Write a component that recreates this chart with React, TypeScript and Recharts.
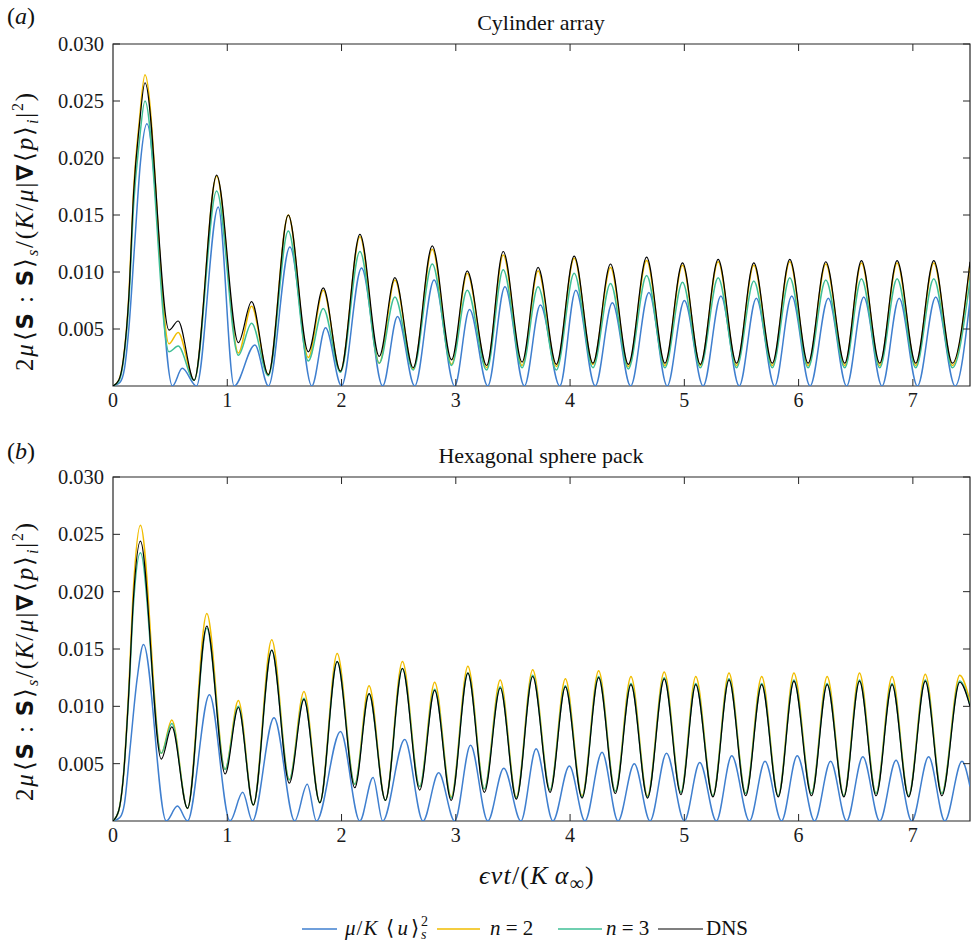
import React from 'react';
import { LineChart, Line, XAxis, YAxis, ReferenceArea } from 'recharts';

// ---------- ticks ----------
const xTicks = [0, 1, 2, 3, 4, 5, 6, 7];
const yTicks = [0.005, 0.01, 0.015, 0.02, 0.025, 0.03];

// ---------- panel (a): Cylinder array ----------
const aX = [0, 0.05, 0.09, 0.14, 0.18, 0.23, 0.28,
  0.49, 0.57, 0.71,
  0.907, 1.097, 1.213, 1.359,
  1.534, 1.709, 1.84, 1.99,
  2.161, 2.33, 2.467, 2.627,
  2.794, 2.963, 3.10, 3.27,
  3.415, 3.58, 3.72, 3.88,
  4.036, 4.20, 4.354, 4.51,
  4.67, 4.83, 4.984, 5.14,
  5.296, 5.457, 5.608, 5.77,
  5.923, 6.083, 6.238, 6.404,
  6.55, 6.71, 6.862, 7.025,
  7.183, 7.346, 7.5];
const aDNS = [0, 0.0005, 0.0023, 0.0081, 0.0169, 0.0228, 0.0266,
  0.0049, 0.0057, 0.0005,
  0.0185, 0.0038, 0.0074, 0.0010,
  0.0150, 0.0030, 0.0086, 0.0013,
  0.0133, 0.0026, 0.0095, 0.0016,
  0.0123, 0.0023, 0.0101, 0.0018,
  0.0118, 0.0021, 0.0104, 0.0019,
  0.0114, 0.0020, 0.0107, 0.0019,
  0.0113, 0.0020, 0.0108, 0.0019,
  0.0111, 0.0020, 0.0108, 0.0020,
  0.0111, 0.0020, 0.0109, 0.0020,
  0.0110, 0.0020, 0.0110, 0.0020,
  0.0110, 0.0020, 0.0109];
const aN2 = [0, 0.0005, 0.0023, 0.0082, 0.0171, 0.0232, 0.0273,
  0.0037, 0.0047, 0.0005,
  0.0184, 0.0029, 0.0070, 0.0010,
  0.0150, 0.0025, 0.0084, 0.0013,
  0.0131, 0.0020, 0.0093, 0.0015,
  0.0120, 0.0019, 0.0099, 0.0016,
  0.0115, 0.0018, 0.0101, 0.0017,
  0.0112, 0.0019, 0.0104, 0.0017,
  0.0110, 0.0018, 0.0106, 0.0018,
  0.0109, 0.0018, 0.0106, 0.0018,
  0.0109, 0.0018, 0.0107, 0.0018,
  0.0108, 0.0018, 0.0108, 0.0018,
  0.0108, 0.0018, 0.0107];
const aN3 = [0, 0.0004, 0.0021, 0.0076, 0.0158, 0.0214, 0.0250,
  0.0030, 0.0035, 0.0005,
  0.0171, 0.0027, 0.0055, 0.0009,
  0.0136, 0.0022, 0.0068, 0.0012,
  0.0118, 0.0020, 0.0078, 0.0014,
  0.0107, 0.0018, 0.0084, 0.0014,
  0.0102, 0.0016, 0.0087, 0.0014,
  0.0099, 0.0016, 0.0090, 0.0015,
  0.0097, 0.0016, 0.0091, 0.0016,
  0.0095, 0.0016, 0.0092, 0.0016,
  0.0095, 0.0016, 0.0093, 0.0016,
  0.0094, 0.0016, 0.0094, 0.0016,
  0.0094, 0.0016, 0.0093];
const aUX = [0, 0.06, 0.10, 0.14, 0.19, 0.24, 0.297, 0.52,
  0.606, 0.73, 0.921, 1.06, 1.242, 1.36, 1.548, 1.74, 1.86, 2.0,
  2.175, 2.36, 2.49, 2.64, 2.81, 2.99, 3.12, 3.28, 3.43, 3.60,
  3.74, 3.91, 4.05, 4.22, 4.37, 4.53, 4.69, 4.85, 5.0, 5.165,
  5.32, 5.48, 5.63, 5.79, 5.94, 6.10, 6.26, 6.42, 6.57, 6.73,
  6.88, 7.04, 7.20, 7.37, 7.5];
const aU = [0, 0.0003, 0.0015, 0.0052, 0.0125, 0.0196, 0.0230, 0,
  0.00155, 0, 0.0157, 0, 0.0036, 0, 0.0122, 0, 0.0051, 0,
  0.01035, 0, 0.0061, 0, 0.0093, 0, 0.0067, 0, 0.0087, 0,
  0.0071, 0, 0.0084, 0, 0.0073, 0, 0.0082, 0, 0.0075, 0,
  0.0079, 0, 0.0077, 0, 0.0079, 0, 0.0077, 0, 0.0078, 0,
  0.0077, 0, 0.0078, 0, 0.0075];

// ---------- panel (b): Hexagonal sphere pack ----------
const bX = [0, 0.05, 0.093, 0.136, 0.18, 0.24, 0.422, 0.515, 0.652,
  0.821, 0.981, 1.097, 1.228,
  1.389, 1.543, 1.671, 1.81,
  1.962, 2.116, 2.241, 2.384,
  2.533, 2.684, 2.815, 2.96,
  3.106, 3.25, 3.389, 3.53,
  3.673, 3.825, 3.959, 4.105,
  4.25, 4.396, 4.533, 4.678,
  4.824, 4.97, 5.10, 5.25,
  5.391, 5.537, 5.677, 5.822,
  5.959, 6.113, 6.25, 6.396,
  6.533, 6.678, 6.818, 6.963,
  7.109, 7.254, 7.41,
  7.5];
const bDNS = [0, 0.0009, 0.0041, 0.0108, 0.0196, 0.0244, 0.0054, 0.0082, 0.0011,
  0.0170, 0.0041, 0.0099, 0.0014,
  0.0149, 0.0033, 0.0106, 0.0016,
  0.0139, 0.0029, 0.0111, 0.0018,
  0.0133, 0.0027, 0.0114, 0.0018,
  0.0129, 0.0025, 0.0116, 0.0019,
  0.0126, 0.0025, 0.0117, 0.0020,
  0.0125, 0.0024, 0.0119, 0.0020,
  0.0124, 0.0023, 0.0119, 0.0021,
  0.0123, 0.0022, 0.0119, 0.0021,
  0.0122, 0.0022, 0.0119, 0.0021,
  0.0122, 0.0022, 0.0119, 0.0021,
  0.0122, 0.0022, 0.0121,
  0.0100];
const bN2 = [0, 0.0009, 0.0042, 0.0112, 0.0205, 0.0258, 0.0059, 0.0088, 0.0011,
  0.0181, 0.0045, 0.0105, 0.0014,
  0.0158, 0.0036, 0.0113, 0.0016,
  0.0146, 0.0032, 0.0118, 0.0018,
  0.0139, 0.0030, 0.0121, 0.0021,
  0.0135, 0.0028, 0.0123, 0.0021,
  0.0132, 0.0027, 0.0124, 0.0022,
  0.0131, 0.0026, 0.0126, 0.0022,
  0.0130, 0.0025, 0.0126, 0.0022,
  0.0129, 0.0024, 0.0126, 0.0022,
  0.0129, 0.0024, 0.0126, 0.0022,
  0.0129, 0.0024, 0.0126, 0.0022,
  0.0128, 0.0024, 0.0127,
  0.0104];
const bN3 = [0, 0.0009, 0.0041, 0.0106, 0.0190, 0.0234, 0.0059, 0.0085, 0.0011,
  0.0168, 0.0045, 0.0100, 0.0014,
  0.0149, 0.0036, 0.0107, 0.0016,
  0.0139, 0.0032, 0.0111, 0.0018,
  0.0133, 0.0030, 0.0115, 0.0020,
  0.0129, 0.0028, 0.0117, 0.0020,
  0.0127, 0.0027, 0.0118, 0.0021,
  0.0126, 0.0026, 0.0120, 0.0021,
  0.0125, 0.0025, 0.0120, 0.0022,
  0.0124, 0.0024, 0.0120, 0.0022,
  0.0123, 0.0024, 0.0120, 0.0022,
  0.0123, 0.0024, 0.0120, 0.0022,
  0.0123, 0.0024, 0.0122,
  0.0101];
const bUX = [0, 0.06, 0.10, 0.151, 0.21, 0.267, 0.466, 0.564, 0.652,
  0.844, 1.024, 1.135, 1.22, 1.409, 1.59, 1.70, 1.78, 1.991, 2.16,
  2.276, 2.36, 2.553, 2.713, 2.85, 2.99, 3.129, 3.28, 3.42, 3.57,
  3.703, 3.85, 3.994, 4.13, 4.28, 4.42, 4.562, 4.70, 4.844, 5.0,
  5.135, 5.28, 5.415, 5.57, 5.706, 5.85, 5.988, 6.14, 6.28, 6.42,
  6.562, 6.71, 6.853, 6.99, 7.138, 7.28, 7.43, 7.5];
const bU = [0, 0.0003, 0.0015, 0.0065, 0.0123, 0.0154, 0, 0.0013, 0,
  0.0110, 0, 0.0025, 0, 0.0090, 0, 0.0032, 0, 0.0078, 0,
  0.0038, 0, 0.0071, 0, 0.0042, 0, 0.0066, 0, 0.0046, 0,
  0.0063, 0, 0.0048, 0, 0.0060, 0, 0.0050, 0, 0.0059, 0,
  0.0051, 0, 0.0057, 0, 0.0052, 0, 0.0057, 0, 0.0052, 0,
  0.0056, 0, 0.0053, 0, 0.0056, 0, 0.0052, 0.0030];

const COLORS = { u: '#3f7fcf', n2: '#f0bd00', n3: '#3fbf96', dns: '#000000' };
const AXIS = '#262626';
const SERIF = 'Liberation Serif, Times New Roman, serif';
const SANS = 'DejaVu Sans, sans-serif';
const TICK = 7;
const PLOT_RIGHT = 970;

const rows = (xs: number[], ...cols: number[][]) =>
  xs.map((x, i) => ({ x, dns: cols[0][i], n2: cols[1][i], n3: cols[2][i] }));
const urows = (xs: number[], ys: number[]) => xs.map((x, i) => ({ x, u: ys[i] }));

const dataA = rows(aX, aDNS, aN2, aN3);
const dataB = rows(bX, bDNS, bN2, bN3);
const uA = urows(aUX, aU);
const uB = urows(bUX, bU);

const serifStyle = { fontFamily: SERIF };

function makeXTick(top: number) {
  return (props: any) => {
    const { x, y, payload } = props;
    const v = payload.value;
    return (
      <g>
        {v !== 0 && <line x1={x} x2={x} y1={y} y2={y - TICK} stroke={AXIS} strokeWidth={1} />}
        {v !== 0 && <line x1={x} x2={x} y1={top} y2={top + TICK} stroke={AXIS} strokeWidth={1} />}
        <text x={x} y={y + 21} textAnchor="middle" style={serifStyle} fontSize={20} fill="#1a1a1a">{v}</text>
      </g>
    );
  };
}

const YTick = (props: any) => {
  const { x, y, payload } = props;
  return (
    <g>
      <line x1={x} x2={x + TICK} y1={y} y2={y} stroke={AXIS} strokeWidth={1} />
      <line x1={PLOT_RIGHT - TICK} x2={PLOT_RIGHT} y1={y} y2={y} stroke={AXIS} strokeWidth={1} />
      <text x={x - 9} y={y + 7} textAnchor="end" style={serifStyle} fontSize={20.5} fill="#1a1a1a">
        {Number(payload.value).toFixed(3)}
      </text>
    </g>
  );
};

function Panel({ data, udata, top, height }: { data: any[]; udata: any[]; top: number; height: number }) {
  return (
    <LineChart width={971} height={height} margin={{ top, right: 1, left: 0, bottom: 4 }}>
      <XAxis dataKey="x" type="number" domain={[0, 7.5]} ticks={xTicks} interval={0}
        axisLine={false} tickLine={false} tickSize={0} tickMargin={0} height={30}
        tick={makeXTick(top)} allowDataOverflow />
      <YAxis type="number" domain={[0, 0.03]} ticks={yTicks} interval={0}
        axisLine={false} tickLine={false} tickSize={0} tickMargin={0} width={113}
        tick={YTick} allowDataOverflow />
      <ReferenceArea x1={0} x2={7.5} y1={0} y2={0.03} fill="none" fillOpacity={0}
        stroke={AXIS} strokeWidth={1.2} ifOverflow="visible" />
      <Line data={udata} dataKey="u" type="monotoneX" stroke={COLORS.u} strokeWidth={1.5} dot={false} isAnimationActive={false} />
      <Line data={data} dataKey="n2" type="monotoneX" stroke={COLORS.n2} strokeWidth={1.5} dot={false} isAnimationActive={false} />
      <Line data={data} dataKey="n3" type="monotoneX" stroke={COLORS.n3} strokeWidth={1.5} dot={false} isAnimationActive={false} />
      <Line data={data} dataKey="dns" type="monotoneX" stroke={COLORS.dns} strokeWidth={1.2} dot={false} isAnimationActive={false} />
    </LineChart>
  );
}

function YLabel({ cx, cy }: { cx: number; cy: number }) {
  const sub = 16;
  return (
    <text transform={`translate(${cx},${cy}) rotate(-90)`} textAnchor="middle" style={serifStyle} fontSize={25} fill="#111" letterSpacing={1.8}>
      <tspan>2</tspan>
      <tspan fontStyle="italic">μ</tspan>
      <tspan dx={1}>⟨</tspan>
      <tspan fontFamily={SANS} fontWeight="bold" fontSize={23}>S</tspan>
      <tspan> : </tspan>
      <tspan fontFamily={SANS} fontWeight="bold" fontSize={23}>S</tspan>
      <tspan>⟩</tspan>
      <tspan fontStyle="italic" fontSize={sub} dy={5}>s</tspan>
      <tspan dy={-5}>/(</tspan>
      <tspan fontStyle="italic">K</tspan>
      <tspan>/</tspan>
      <tspan fontStyle="italic">μ</tspan>
      <tspan>|</tspan>
      <tspan fontFamily={SANS} fontWeight="bold" fontSize={23}>∇</tspan>
      <tspan dx={1}>⟨</tspan>
      <tspan fontStyle="italic">p</tspan>
      <tspan>⟩</tspan>
      <tspan fontStyle="italic" fontSize={sub} dy={5}>i</tspan>
      <tspan dy={-5}>|</tspan>
      <tspan fontSize={sub} dy={-10}>2</tspan>
      <tspan dy={10}>)</tspan>
    </text>
  );
}

function Overlay() {
  const legendY = 929;
  return (
    <svg width={971} height={944} style={{ position: 'absolute', left: 0, top: 0, pointerEvents: 'none' }}>
      <text x={7} y={24} style={serifStyle} fontSize={24} fill="#111">(<tspan fontStyle="italic">a</tspan>)</text>
      <text x={541} y={30} textAnchor="middle" style={serifStyle} fontSize={22} fill="#111">Cylinder array</text>
      <YLabel cx={33} cy={231} />
      <text x={7} y={459} style={serifStyle} fontSize={24} fill="#111">(<tspan fontStyle="italic">b</tspan>)</text>
      <text x={541} y={463} textAnchor="middle" style={serifStyle} fontSize={22} fill="#111">Hexagonal sphere pack</text>
      <YLabel cx={33} cy={661} />
      <text x={537} y={884} textAnchor="middle" style={serifStyle} fontSize={26} fill="#111" letterSpacing={1.2}>
        <tspan fontStyle="italic">ϵνt</tspan>
        <tspan>/(</tspan>
        <tspan fontStyle="italic">K</tspan>
        <tspan fontStyle="italic" dx={6}>α</tspan>
        <tspan fontSize={20} dy={6}>∞</tspan>
        <tspan dy={-6}>)</tspan>
      </text>
      {/* legend */}
      <line x1={302} x2={337} y1={legendY} y2={legendY} stroke={COLORS.u} strokeWidth={1.5} />
      <text x={345} y={legendY + 6} style={serifStyle} fontSize={21} fill="#111" letterSpacing={1}>
        <tspan fontStyle="italic">μ</tspan>
        <tspan>/</tspan>
        <tspan fontStyle="italic">K</tspan>
        <tspan dx={8}>⟨</tspan>
        <tspan fontStyle="italic" dx={2}>u</tspan>
        <tspan dx={2}>⟩</tspan>
        <tspan fontSize={14} dy={-9} dx={1}>2</tspan>
        <tspan fontSize={14} fontStyle="italic" dx={-8} dy={13}>s</tspan>
      </text>
      <line x1={437} x2={480} y1={legendY} y2={legendY} stroke={COLORS.n2} strokeWidth={1.5} />
      <text x={490} y={legendY + 6} style={serifStyle} fontSize={21} fill="#111">
        <tspan fontStyle="italic">n</tspan> = 2
      </text>
      <line x1={558} x2={602} y1={legendY} y2={legendY} stroke={COLORS.n3} strokeWidth={1.5} />
      <text x={606} y={legendY + 6} style={serifStyle} fontSize={21} fill="#111">
        <tspan fontStyle="italic">n</tspan> = 3
      </text>
      <line x1={658} x2={703} y1={legendY} y2={legendY} stroke={COLORS.dns} strokeWidth={1.2} />
      <text x={706} y={legendY + 6} style={serifStyle} fontSize={21} fill="#111">DNS</text>
    </svg>
  );
}

export default function App() {
  return (
    <div style={{ position: 'absolute', left: 0, top: 0, width: 971, height: 944, background: '#fff', overflow: 'hidden' }}>
      <div style={{ position: 'absolute', left: 0, top: 0 }}>
        <Panel data={dataA} udata={uA} top={44} height={420} />
      </div>
      <div style={{ position: 'absolute', left: 0, top: 430 }}>
        <Panel data={dataB} udata={uB} top={47} height={425} />
      </div>
      <Overlay />
    </div>
  );
}
